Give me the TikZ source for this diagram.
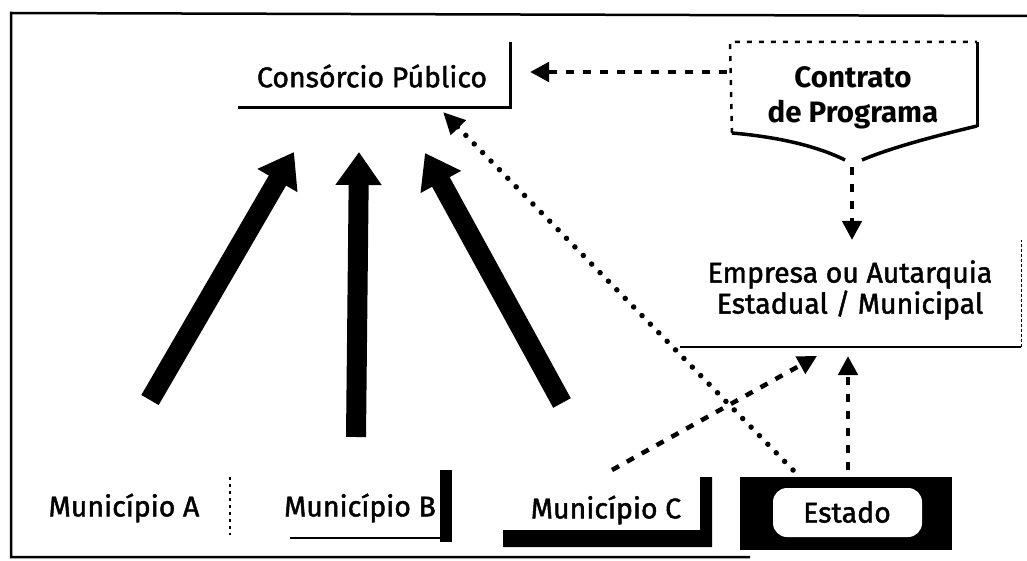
\documentclass[tikz,border=0pt]{standalone}
\usepackage{fontspec}
\setmainfont{Fira Sans}
\newfontfamily\medfont{Fira Sans}[FakeBold=1.6]
\usetikzlibrary{arrows.meta}
\begin{document}
\begin{tikzpicture}[x=1pt,y=-1pt,
  lbl/.style={font=\medfont\fontsize{28.5}{31}\selectfont, align=center, inner sep=0pt},
  bold/.style={font=\fontsize{29.5}{35}\selectfont\bfseries, align=center, inner sep=0pt},
  thick arrow/.style={line width=20pt, -{Triangle[width=44pt,length=33pt]}},
  dash arrow/.style={line width=4.5pt, dash pattern=on 8pt off 9pt, -{Triangle[width=19pt,length=19pt]}},
  dot arrow/.style={line width=5.5pt, line cap=round, dash pattern=on 0pt off 12pt, -{Triangle[width=20pt,length=22pt]}},
  shadowline/.style={line width=3pt}
]
\useasboundingbox (0,0) rectangle (1027,561);
% outer frame
\draw[line width=2.5pt] (1027,16) -- (11,13) -- (11,557) -- (750,557);

% Consorcio Publico
\node[lbl] (cons) at (372,76) {Consórcio Público};
\draw[shadowline] (238,108) -- (510,108) -- (510,42);

% Contrato de Programa
\node[bold] (contr) at (853,98) {Contrato\\de Programa};
\draw[line width=2.5pt, dash pattern=on 5pt off 7pt] (732,133) -- (730,42) -- (977,42);
\draw[line width=3pt] (977,42) -- (977,127);
\draw[line width=3.5pt] (732,133) .. controls (790,138) and (825,150) .. (845,160);
\draw[line width=3.5pt] (862,160) .. controls (890,148) and (935,136) .. (977,126);

% Empresa
\node[lbl] (emp) at (850,290) {Empresa ou Autarquia\\Estadual / Municipal};
\draw[line width=2pt] (680,347) -- (1021,347);
\draw[line width=1pt, dash pattern=on 3pt off 2pt] (1021,347) -- (1021,240);

% Municipios
\node[lbl] (ma) at (124,508) {Município A};
\draw[line width=1.5pt, dash pattern=on 3pt off 4pt] (230,477) -- (230,535);
\node[lbl] (mb) at (360,508) {Município B};
\draw[line width=2pt] (290,538) -- (440,538);
\fill (440,470) rectangle (452,542);
\node[lbl] (mc) at (606,510) {Município C};
\fill (503,530) -- (700,530) -- (700,477) -- (712,477) -- (712,547) -- (503,547) -- cycle;

% Estado
\fill (740,477) rectangle (952,550);
\fill[white, rounded corners=14pt] (773,488) rectangle (922,537);
\node[lbl] (est) at (847,512) {Estado};

% free ends
\coordinate (aT) at (150,400); \coordinate (aH) at (294,152);
\coordinate (bT) at (356,437); \coordinate (bH) at (359,152);
\coordinate (cT) at (562,403); \coordinate (cH) at (425,153);
\coordinate (ctrL) at (727,72); \coordinate (consR) at (530,72);
\coordinate (ctrB) at (852,167); \coordinate (empT) at (852,240);
\coordinate (estTL) at (793,470); \coordinate (consB) at (443,112);
\coordinate (mcT) at (612,470); \coordinate (empB1) at (817,356);
\coordinate (estT) at (848,470); \coordinate (empB2) at (848,356);

\draw[thick arrow] (aT) -- (aH);
\draw[thick arrow] (bT) -- (bH);
\draw[thick arrow] (cT) -- (cH);
\draw[dash arrow] (ctrL) -- (consR);
\draw[dash arrow] (ctrB) -- (empT);
\draw[dot arrow] (estTL) -- (consB);
\draw[dash arrow] (mcT) -- (empB1);
\draw[dash arrow] (estT) -- (empB2);
\end{tikzpicture}
\end{document}
